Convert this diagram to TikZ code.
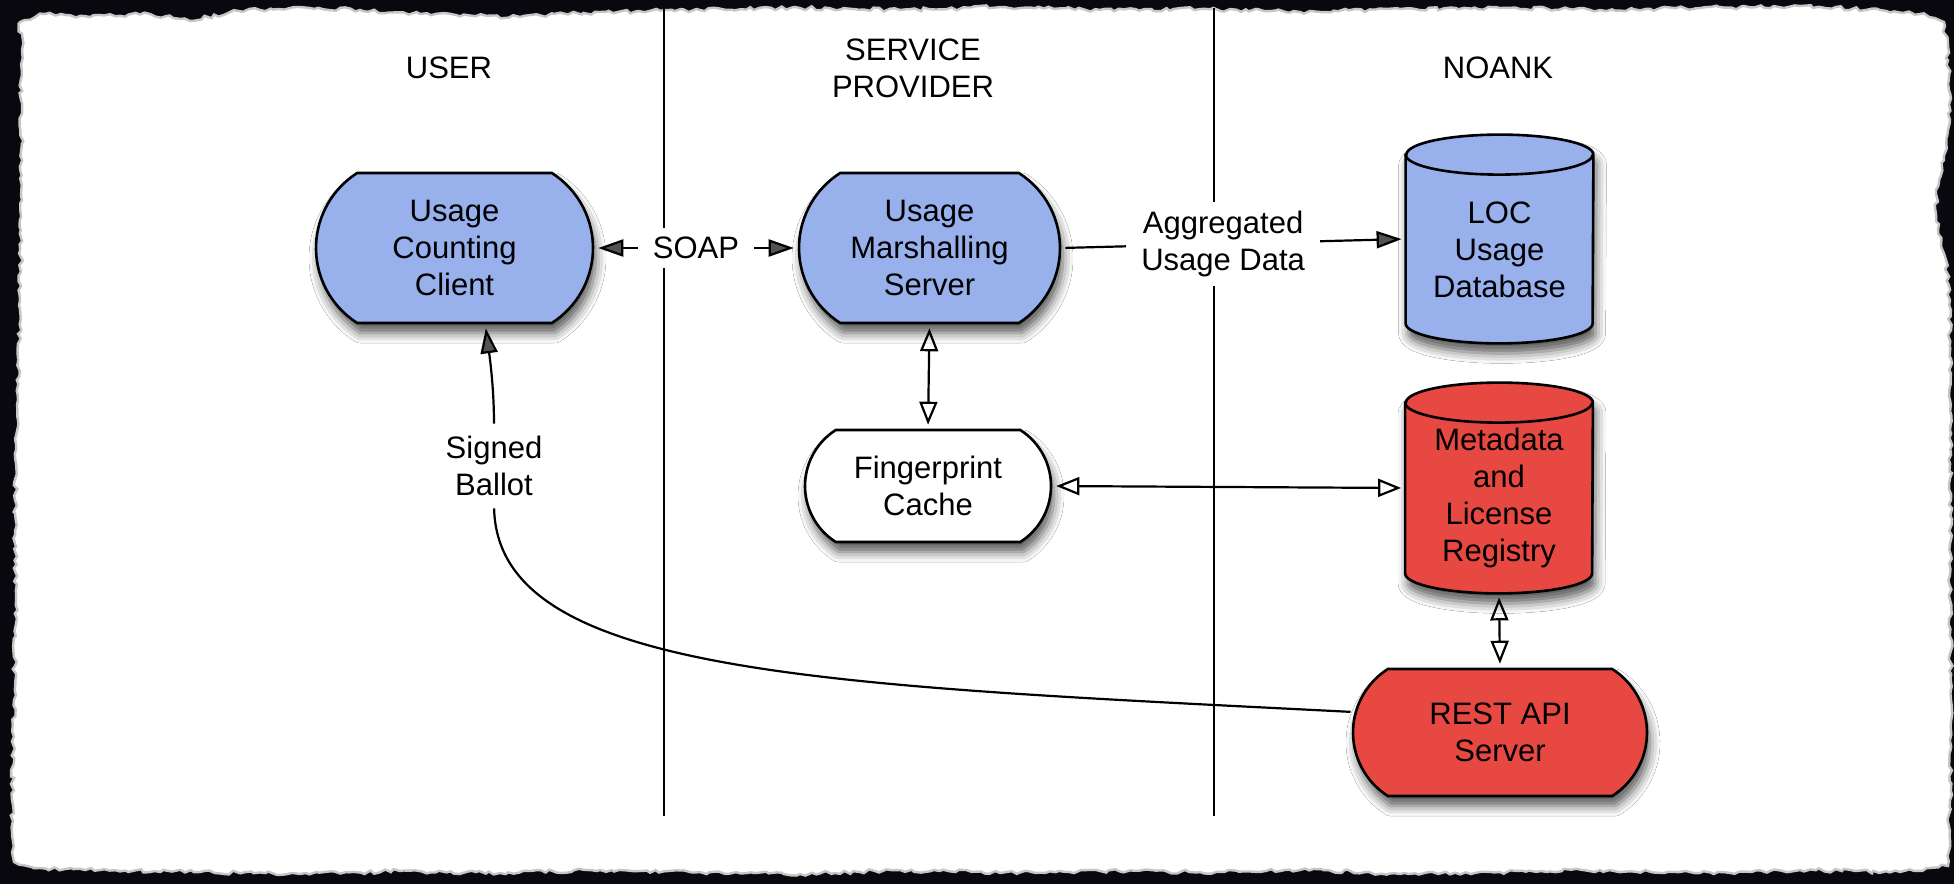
\documentclass[tikz,border=0pt]{standalone}
\usepackage{fontspec}
\setmainfont{Liberation Sans}
\usetikzlibrary{shapes.misc, arrows.meta, calc, shadows.blur, decorations.pathmorphing}

\definecolor{nodeblue}{RGB}{152,176,236}
\definecolor{nodered}{RGB}{232,72,66}
\definecolor{backdrop}{RGB}{8,8,14}

% cylinder body and rim drawn around a named rectangle node
\newcommand\drawdrum[2]{%
  \path[fill=#2, draw=black, line width=1.3pt, boxshadow]
    ($(#1.north west)+(0,20)$) -- ($(#1.south west)+(0,-20)$)
    arc[start angle=180, end angle=360, x radius=46.75pt, y radius=10pt]
    -- ($(#1.north east)+(0,20)$)
    arc[start angle=0, end angle=180, x radius=46.75pt, y radius=10pt] -- cycle;
  \draw[line width=1.3pt] ($(#1.north west)+(0,20)$)
    arc[start angle=180, end angle=360, x radius=46.75pt, y radius=10pt];
}

\begin{document}
\begin{tikzpicture}[x=0.5pt, y=-0.5pt,
  every node/.style={font=\fontsize{15.5pt}{18.5pt}\selectfont, align=center, inner sep=0pt},
  boxshadow/.style={blur shadow={shadow xshift=1.5pt, shadow yshift=-5pt, shadow blur radius=5pt, shadow opacity=65}},
  capsule/.style={rounded rectangle, rounded rectangle arc length=115, draw=black, line width=1.3pt, boxshadow},
  drumbox/.style={rectangle, minimum width=93.5pt},
  lane/.style={line width=1pt},
  link/.style={line width=1.1pt, shorten <=2pt, shorten >=2pt},
  edgelabel/.style={fill=white, inner xsep=7.5pt, inner ysep=4.5pt},
  solidtip/.style={-{Triangle[length=12.5pt, width=8.5pt]}},
  solidboth/.style={{Triangle[length=12.5pt, width=8.5pt]}-{Triangle[length=12.5pt, width=8.5pt]}},
  openboth/.style={{Triangle[open, length=11.5pt, width=9pt]}-{Triangle[open, length=11.5pt, width=9pt]}},
]

\useasboundingbox (0,0) rectangle (1954,884);
\fill[backdrop] (0,0) rectangle (1954,884);

% torn sheet of paper
\pgfmathsetseed{7}
\fill[white, draw=gray!45, line width=1.2pt, decorate,
      decoration={random steps, segment length=2.5pt, amplitude=1pt}]
  (20,22) -- (45,14) -- (90,17) -- (150,14) -- (190,21) -- (230,12) -- (300,7)
  -- (360,10) -- (420,14) -- (520,17) -- (600,12) -- (700,10) -- (800,8)
  -- (900,10) -- (1000,7) -- (1100,10) -- (1200,9) -- (1300,12) -- (1400,9)
  -- (1500,8) -- (1600,10) -- (1700,8) -- (1800,6) -- (1880,10) -- (1920,14)
  -- (1944,22) -- (1948,60) -- (1950,120) -- (1944,160) -- (1936,190)
  -- (1938,230) -- (1946,260) -- (1950,300) -- (1950,400) -- (1951,500)
  -- (1950,600) -- (1951,700) -- (1950,800) -- (1948,866) -- (1900,872)
  -- (1800,870) -- (1700,873) -- (1600,870) -- (1500,872) -- (1400,874)
  -- (1300,870) -- (1200,872) -- (1100,871) -- (1000,873) -- (900,870)
  -- (800,874) -- (700,872) -- (600,870) -- (500,873) -- (400,871)
  -- (300,874) -- (200,872) -- (100,870) -- (40,868) -- (14,862)
  -- (12,800) -- (14,700) -- (16,600) -- (15,500) -- (18,400) -- (20,300)
  -- (22,200) -- (21,100) -- (22,50) -- cycle;

% swim-lane separators
\coordinate (laneAtop) at (664,8);
\coordinate (laneAbot) at (664,816);
\coordinate (laneBtop) at (1214,8);
\coordinate (laneBbot) at (1214,816);
\draw[lane] (laneAtop) -- (laneAbot);
\draw[lane] (laneBtop) -- (laneBbot);

% lane headings
\node (huser)  at (449,68)  {USER};
\node (hsp)    at (913,68)  {SERVICE\\PROVIDER};
\node (hnoank) at (1498,68) {NOANK};

% processes
\node[capsule, fill=nodeblue, minimum width=138.5pt, minimum height=75pt] (ucc) at (454.5,248) {Usage\\Counting\\Client};
\node[capsule, fill=nodeblue, minimum width=130.5pt, minimum height=75pt] (ums) at (929.5,248) {Usage\\Marshalling\\Server};
\node[capsule, fill=white, minimum width=123pt, minimum height=56pt] (fpc) at (928,486) {Fingerprint\\Cache};
\node[capsule, fill=nodered, minimum width=147pt, minimum height=63.5pt] (rest) at (1500,732.5) {REST API\\Server};

% data stores
\node[drumbox, minimum height=104pt] (loc) at (1499.5,239) {};
\drawdrum{loc}{nodeblue}
\node (loctext) at (1499.5,250) {LOC\\Usage\\Database};

\node[drumbox, minimum height=105pt] (reg) at (1499,488) {};
\drawdrum{reg}{nodered}
\node (regtext) at (1499,497.5) {Metadata\\and\\License\\Registry};

% connectors
\draw[link, solidboth] (ucc.east) -- (ums.west)
  node[edgelabel, midway] (soap) {SOAP};
\draw[link, solidtip] (ums.east) -- (loc.west)
  node[edgelabel, pos=0.47] (agg) {Aggregated\\Usage Data};
\draw[link, openboth] (ums.south) -- (fpc.north);
\draw[link, openboth] (fpc.east) -- (reg.west);
\draw[link, openboth] (reg.south) -- (rest.north);

\node[inner ysep=4pt] (ballot) at (494,466) {Signed\\Ballot};
\draw[link] (rest.172) .. controls (820,685) and (498,675) .. (ballot.south);
\draw[link, solidtip] (ballot.north) .. controls (494,385) and (489,352) .. (ucc.292);

\end{tikzpicture}
\end{document}
